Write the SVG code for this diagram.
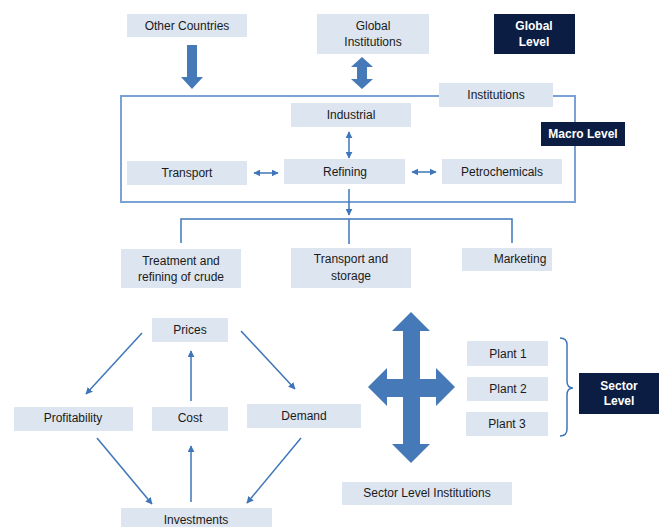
<svg xmlns="http://www.w3.org/2000/svg" width="665" height="527" viewBox="0 0 665 527">
<defs>
<style>
.box{fill:#dde5f0;}
.dark{fill:#0b1d42;}
.t{font-family:"Liberation Sans",Arial,sans-serif;font-size:12px;fill:#1a1a1a;text-anchor:middle;}
.w{font-family:"Liberation Sans",Arial,sans-serif;font-size:12px;font-weight:bold;fill:#ffffff;text-anchor:middle;}
.c{stroke:#3f76b9;stroke-width:1.5;fill:none;}
.big{fill:#4579b8;}
.frame{stroke:#7aa2d4;stroke-width:2;fill:none;}
</style>
<marker id="ah" viewBox="0 0 10 10" refX="9" refY="5" markerWidth="7" markerHeight="7" markerUnits="userSpaceOnUse" orient="auto-start-reverse">
<path d="M0,0 L10,5 L0,10 z" fill="#3f76b9"/>
</marker>
</defs>
<rect class="frame" x="121" y="96" width="454" height="106"/>
<g id="connectors">
<polygon class="big" points="187,45 197,45 197,77 203,77 192,89 181,77 187,77"/>
<polygon class="big" points="362,57 373,67 367,67 367,79 373,79 362,89 351,79 357,79 357,67 351,67"/>
<line class="c" x1="349" y1="132" x2="349" y2="158" marker-start="url(#ah)" marker-end="url(#ah)"/>
<line class="c" x1="254" y1="173" x2="278" y2="173" marker-start="url(#ah)" marker-end="url(#ah)"/>
<line class="c" x1="412" y1="172" x2="436" y2="172" marker-start="url(#ah)" marker-end="url(#ah)"/>
<line class="c" x1="349" y1="189" x2="349" y2="215" marker-end="url(#ah)"/>
<path class="c" d="M181,243 V219 H512 V243 M349,219 V244"/>
<line class="c" x1="142" y1="333" x2="86" y2="394" marker-end="url(#ah)"/>
<line class="c" x1="241" y1="331" x2="295" y2="389" marker-end="url(#ah)"/>
<line class="c" x1="191" y1="401" x2="191" y2="351" marker-end="url(#ah)"/>
<line class="c" x1="97" y1="438" x2="152" y2="504" marker-end="url(#ah)"/>
<line class="c" x1="191" y1="502" x2="191" y2="446" marker-end="url(#ah)"/>
<line class="c" x1="301" y1="438" x2="247" y2="503" marker-end="url(#ah)"/>
<polygon class="big" points="411,312 430,331 420,331 420,379 436,379 436,368 455,387 436,406 436,397 420,397 420,444 430,444 411,463 392,444 403,444 403,397 387,397 387,406 368,387 387,368 387,379 403,379 403,331 392,331"/>
<path class="c" d="M560,338 Q567,338 567,345 L567,381 Q567,388 573,388 Q567,388 567,395 L567,429 Q567,436 560,436"/>
</g>
<g id="other-countries"><rect class="box" x="127" y="14" width="120" height="23"/><text class="t" x="187" y="30">Other Countries</text></g>
<g id="global-institutions"><rect class="box" x="317" y="14" width="112" height="40"/><text class="t" x="373" y="30">Global</text><text class="t" x="373" y="46">Institutions</text></g>
<g id="global-level"><rect class="dark" x="494" y="14" width="81" height="40"/><text class="w" x="534" y="30">Global</text><text class="w" x="534" y="46">Level</text></g>
<g id="institutions"><rect class="box" x="439" y="83" width="114" height="24"/><text class="t" x="496" y="99">Institutions</text></g>
<g id="macro-level"><rect class="dark" x="541" y="122" width="84" height="24"/><text class="w" x="583" y="138">Macro Level</text></g>
<g id="industrial"><rect class="box" x="291" y="103" width="120" height="24"/><text class="t" x="351" y="119">Industrial</text></g>
<g id="transport"><rect class="box" x="127" y="161" width="120" height="24"/><text class="t" x="187" y="177">Transport</text></g>
<g id="refining"><rect class="box" x="284" y="159" width="121" height="25"/><text class="t" x="345" y="176">Refining</text></g>
<g id="petrochemicals"><rect class="box" x="442" y="159" width="120" height="25"/><text class="t" x="502" y="176">Petrochemicals</text></g>
<g id="treatment"><rect class="box" x="121" y="249" width="120" height="39"/><text class="t" x="181" y="265">Treatment and</text><text class="t" x="181" y="281">refining of crude</text></g>
<g id="transport-storage"><rect class="box" x="291" y="248" width="120" height="40"/><text class="t" x="351" y="263">Transport and</text><text class="t" x="351" y="280">storage</text></g>
<g id="marketing"><rect class="box" x="462" y="248" width="90" height="23"/><text class="t" x="520" y="263">Marketing</text></g>
<g id="prices"><rect class="box" x="152" y="318" width="76" height="24"/><text class="t" x="190" y="334">Prices</text></g>
<g id="profitability"><rect class="box" x="14" y="407" width="119" height="24"/><text class="t" x="73" y="422">Profitability</text></g>
<g id="cost"><rect class="box" x="152" y="407" width="76" height="24"/><text class="t" x="190" y="422">Cost</text></g>
<g id="demand"><rect class="box" x="247" y="404" width="114" height="24"/><text class="t" x="304" y="420">Demand</text></g>
<g id="investments"><rect class="box" x="121" y="508" width="151" height="24"/><text class="t" x="196" y="524">Investments</text></g>
<g id="plant1"><rect class="box" x="467" y="341" width="81" height="25"/><text class="t" x="508" y="358">Plant 1</text></g>
<g id="plant2"><rect class="box" x="467" y="377" width="81" height="24"/><text class="t" x="508" y="393">Plant 2</text></g>
<g id="plant3"><rect class="box" x="466" y="412" width="82" height="24"/><text class="t" x="507" y="428">Plant 3</text></g>
<g id="sector-level"><rect class="dark" x="579" y="373" width="80" height="41"/><text class="w" x="619" y="390">Sector</text><text class="w" x="619" y="405">Level</text></g>
<g id="sector-institutions"><rect class="box" x="342" y="482" width="170" height="23"/><text class="t" x="427" y="497">Sector Level Institutions</text></g>
</svg>
